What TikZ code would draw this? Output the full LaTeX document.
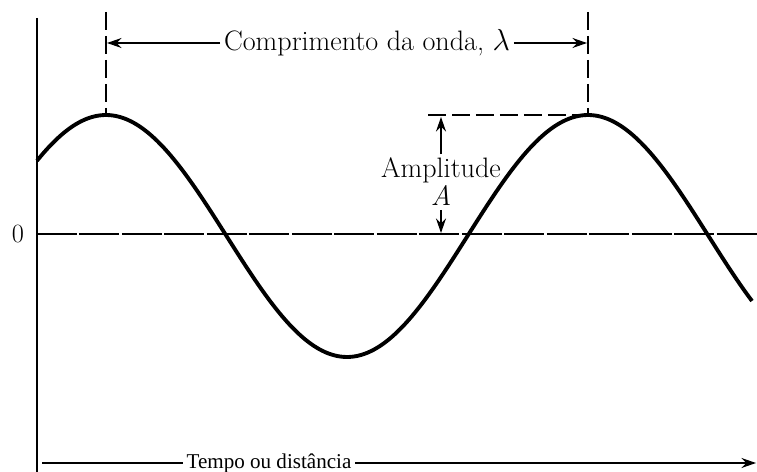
\documentclass[tikz,border=0pt]{standalone}
\usepackage{fontspec}
\newfontfamily\timesfont{Liberation Serif}
\usetikzlibrary{arrows.meta}

\begin{document}
\begin{tikzpicture}[
    x=0.02cm, y=-0.02cm,
    label/.style={font=\fontsize{16}{17}\selectfont, inner sep=2pt, align=center},
    arrow/.style={-{Stealth[length=2.9mm, width=2mm]}, line width=0.7pt},
    axis/.style={line width=1.1pt},
    wave/.style={line width=2.2pt},
    guide/.style={line width=0.8pt, dash pattern=on 0.36cm off 0.12cm},
    zeroline/.style={line width=0.8pt, dash pattern=on 0.8cm off 0.05cm}
]
\useasboundingbox (0,0) rectangle (757,472);

% axes
\coordinate (ytop) at (37,18);
\coordinate (ybot) at (37,472);
\coordinate (z0) at (37,234);
\coordinate (z1) at (757,234);
\draw[axis] (ytop) -- (ybot);
\draw[zeroline] (z0) -- (z1);
\node[label, font=\fontsize{15}{16}\selectfont] (zero) at (18,234) {0};

% wave
\draw[wave] plot[domain=37:752, samples=120, smooth] (\x, {236-121*cos(0.74689*(\x-106))});

% wavelength
\coordinate (pk1) at (106,115);
\coordinate (pk2) at (588,115);
\coordinate (pk1t) at (106,12);
\coordinate (pk2t) at (588,12);
\coordinate (lamL) at (107,43);
\coordinate (lamR) at (587,43);
\draw[guide] (pk1t) -- (pk1);
\draw[guide] (pk2t) -- (pk2);
\node[label] (lam) at (367,43) {Comprimento da onda, $\lambda$};
\draw[arrow] (lam) -- (lamL);
\draw[arrow] (lam) -- (lamR);

% amplitude
\coordinate (ampL) at (428,115);
\coordinate (amptop) at (441,117);
\coordinate (ampbot) at (441,233);
\draw[guide] (ampL) -- (pk2);
\node[label] (amp) at (441,182) {Amplitude\\[-1pt]\textit{A}};
\draw[arrow] (amp) -- (amptop);
\draw[arrow] (amp) -- (ampbot);

% time axis
\coordinate (tL) at (42,463);
\coordinate (tR) at (756,463);
\node[font=\timesfont\fontsize{12}{14}\selectfont, inner sep=2pt] (tempo) at (269,463) {Tempo ou distância};
\draw[line width=0.7pt] (tempo) -- (tL);
\draw[arrow] (tempo) -- (tR);

\end{tikzpicture}
\end{document}
